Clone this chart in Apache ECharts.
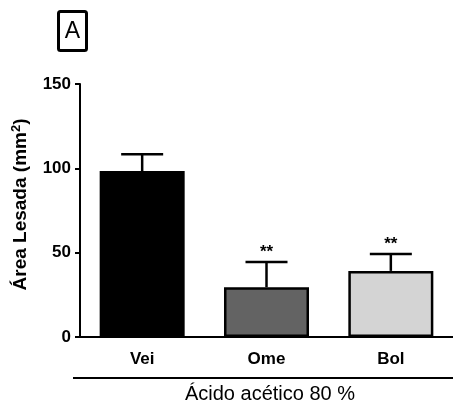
<!DOCTYPE html>
<html>
<head>
<meta charset="utf-8">
<script src="https://cdn.jsdelivr.net/npm/echarts@6/dist/echarts.min.js"></script>
<style>html,body{margin:0;padding:0;background:#fff}#c{width:453px;height:402px}</style>
</head>
<body>
<div id="c"></div>
<script>
const categories = ['Vei', 'Ome', 'Bol'];
const means = [98.4, 29.5, 39.2];
const errors = [10.0, 15.0, 10.0];
const stars = ['', '**', '**'];
const barColors = ['#000000', '#636363', '#d4d4d4'];
const yTicks = [0, 50, 100, 150];

const chart = echarts.init(document.getElementById('c'));
const font = 'Liberation Sans, Arial, sans-serif';
chart.setOption({
  animation: false,
  grid: { left: 80, top: 84, width: 375, height: 253, containLabel: false },
  xAxis: {
    type: 'category', data: categories,
    axisLine: { lineStyle: { color: '#000', width: 2 } },
    axisTick: { alignWithLabel: true, length: 6, lineStyle: { color: '#000', width: 2 } },
    axisLabel: { color: '#000', fontWeight: 'bold', fontSize: 17, fontFamily: font, margin: 14 }
  },
  yAxis: {
    type: 'value', min: yTicks[0], max: yTicks[yTicks.length - 1], interval: 50,
    name: 'Área Lesada (mm{s|2})', nameLocation: 'middle', nameGap: 45, nameRotate: 90,
    nameTextStyle: {
      color: '#000', fontWeight: 'bold', fontSize: 19, fontFamily: font, lineHeight: 22,
      padding: [0, 0, 0, 12],
      rich: { s: { fontSize: 13, fontWeight: 'bold', fontFamily: font, color: '#000', verticalAlign: 'top', lineHeight: 22 } }
    },
    axisLine: { show: true, lineStyle: { color: '#000', width: 2 } },
    axisTick: { show: true, length: 5, lineStyle: { color: '#000', width: 2 } },
    axisLabel: { color: '#000', fontWeight: 'bold', fontSize: 17, fontFamily: font, margin: 9 },
    splitLine: { show: false }
  },
  series: [
    {
      type: 'bar', barWidth: 85,
      data: means.map((v, i) => ({
        value: v,
        itemStyle: { color: barColors[i], borderColor: '#000', borderWidth: 2.5 }
      }))
    },
    {
      type: 'custom',
      data: means.map((v, i) => [i, v, v + errors[i], stars[i]]),
      renderItem: function (params, api) {
        const x = api.value(0);
        const base = api.coord([x, api.value(1)]);
        const top = api.coord([x, api.value(2)]);
        const half = 21;
        const children = [
          { type: 'line', shape: { x1: base[0], y1: base[1], x2: top[0], y2: top[1] }, style: { stroke: '#000', lineWidth: 2.5 } },
          { type: 'line', shape: { x1: top[0] - half, y1: top[1], x2: top[0] + half, y2: top[1] }, style: { stroke: '#000', lineWidth: 2.5 } }
        ];
        const s = stars[params.dataIndex];
        if (s) {
          children.push({ type: 'text', style: { text: s, x: top[0], y: top[1] - 10, align: 'center', verticalAlign: 'middle', fontSize: 17, fontWeight: 'bold', fontFamily: font, fill: '#000' } });
        }
        return { type: 'group', children: children };
      },
      z: 5
    }
  ],
  graphic: [
    { type: 'rect', shape: { x: 58.5, y: 11.5, width: 28, height: 39, r: 2 }, style: { fill: '#fff', stroke: '#000', lineWidth: 3 } },
    { type: 'text', style: { text: 'A', x: 72.5, y: 31.5, align: 'center', verticalAlign: 'middle', fontSize: 23, fontFamily: font, fill: '#000' } },
    { type: 'line', shape: { x1: 73, y1: 378, x2: 453, y2: 378 }, style: { stroke: '#000', lineWidth: 2 } },
    { type: 'text', style: { text: 'Ácido acético 80 %', x: 270, y: 394, align: 'center', verticalAlign: 'middle', fontSize: 20, fontFamily: font, fill: '#000' } }
  ]
});
</script>
</body>
</html>
